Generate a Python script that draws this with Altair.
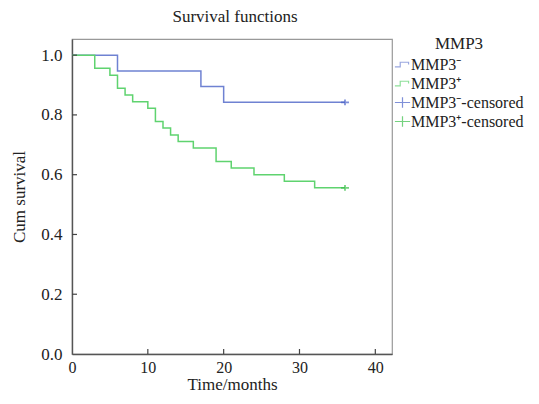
import altair as alt
import pandas as pd

# ---- data ----
neg_label = "MMP3\u207b"
pos_label = "MMP3\u207a"
neg_cens_label = "MMP3\u207b-censored"
pos_cens_label = "MMP3\u207a-censored"

neg_times = [0, 6, 17, 20, 36]
neg_surv = [1.0, 0.947, 0.895, 0.842, 0.842]

pos_times = [0, 3, 5, 6, 7, 8, 10, 11, 12, 13, 14, 16, 19, 21, 24, 28, 32, 36]
pos_surv = [1.0, 0.956, 0.933, 0.889, 0.867, 0.844, 0.822, 0.778, 0.756, 0.733,
            0.711, 0.689, 0.644, 0.622, 0.600, 0.578, 0.556, 0.556]

cens_times = [36, 36]
cens_surv = [0.842, 0.556]
cens_groups = [neg_cens_label, pos_cens_label]

x_ticks = [10, 20, 30, 40]
y_ticks = [0.2, 0.4, 0.6, 0.8, 1.0]

# ---- tables ----
curves = pd.DataFrame({
    "time": neg_times + pos_times,
    "surv": neg_surv + pos_surv,
    "group": [neg_label] * len(neg_times) + [pos_label] * len(pos_times),
})
cens = pd.DataFrame({"time": cens_times, "surv": cens_surv, "group": cens_groups})

FONT = "Liberation Serif"
W, H = 320, 315
domain_groups = [neg_label, pos_label, neg_cens_label, pos_cens_label]
colors = ["#6f82d2", "#5fd36f", "#4a62c8", "#3bbf4a"]
step_path = "M-1,0.3H-0.3V-0.3H0.8V0"
cross_path = "M-1,0H1M0,-0.7V0.7"

xscale = alt.Scale(domain=[0, 42.2], nice=False, zero=False)
yscale = alt.Scale(domain=[0, 1.054], nice=False)


def make_legend():
    return alt.Legend(
        title="MMP3", titleAnchor="middle",
        orient="none", legendX=322, legendY=-3,
        symbolSize=230, symbolStrokeWidth=1.2, labelOffset=0,
        rowPadding=2, titlePadding=3, padding=0,
    )


color = alt.Color("group:N", scale=alt.Scale(domain=domain_groups, range=colors),
                  legend=make_legend())
shape = alt.Shape("group:N",
                  scale=alt.Scale(domain=domain_groups,
                                  range=[step_path, step_path, cross_path, cross_path]),
                  legend=make_legend())

x_enc = alt.X("time:Q", scale=xscale,
              axis=alt.Axis(title="Time/months", values=[0, 10, 20, 30, 40],
                            ticks=False, tickSize=0, labelPadding=5, grid=False,
                            labelFlush=False, labelFontSize=16, titlePadding=1))
y_enc = alt.Y("surv:Q", scale=yscale,
              axis=alt.Axis(title="Cum survival", values=[0, 0.2, 0.4, 0.6, 0.8, 1.0],
                            format=".1f", ticks=False, tickSize=0, labelPadding=10,
                            labelFlush=False, grid=False, titlePadding=12))

lines = alt.Chart(curves).mark_line(interpolate="step-after", strokeWidth=1.5).encode(
    x=x_enc, y=y_enc, color=color, detail="group:N"
)

points = alt.Chart(cens).mark_point(size=64, strokeWidth=1.8, filled=False).encode(
    x=alt.X("time:Q", scale=xscale),
    y=alt.Y("surv:Q", scale=yscale),
    color=color,
    shape=shape,
)

yt = alt.Chart(pd.DataFrame({"v": y_ticks})).mark_rule(color="#444", strokeWidth=1.2).encode(
    y=alt.Y("v:Q", scale=yscale), x=alt.value(0), x2=alt.value(5)
)
xt = alt.Chart(pd.DataFrame({"v": x_ticks})).mark_rule(color="#444", strokeWidth=1.2).encode(
    x=alt.X("v:Q", scale=xscale), y=alt.value(H), y2=alt.value(H - 5)
)

chart = alt.layer(lines, points, yt, xt).properties(
    width=W, height=H,
    title=alt.Title("Survival functions", font=FONT, fontSize=17, fontWeight="normal",
                    color="#222", anchor="middle", frame="group", offset=10, dx=3),
    autosize=alt.AutoSizeParams(type="none"),
    padding={"left": 64, "top": 31, "right": 139, "bottom": 39},
    background="white",
).configure_view(
    stroke="#999", strokeWidth=1.2
).configure_axis(
    domainColor="#555", domainWidth=1.4,
    labelFont=FONT, labelFontSize=17, labelColor="#222",
    titleFont=FONT, titleFontSize=17, titleFontWeight="normal", titleColor="#222",
).configure_legend(
    titleFont=FONT, titleFontSize=17, titleFontWeight="normal", titleColor="#222",
    labelFont=FONT, labelFontSize=16, labelColor="#222",
)

chart.save("out.html", embed_options={"renderer": "svg", "actions": False})
